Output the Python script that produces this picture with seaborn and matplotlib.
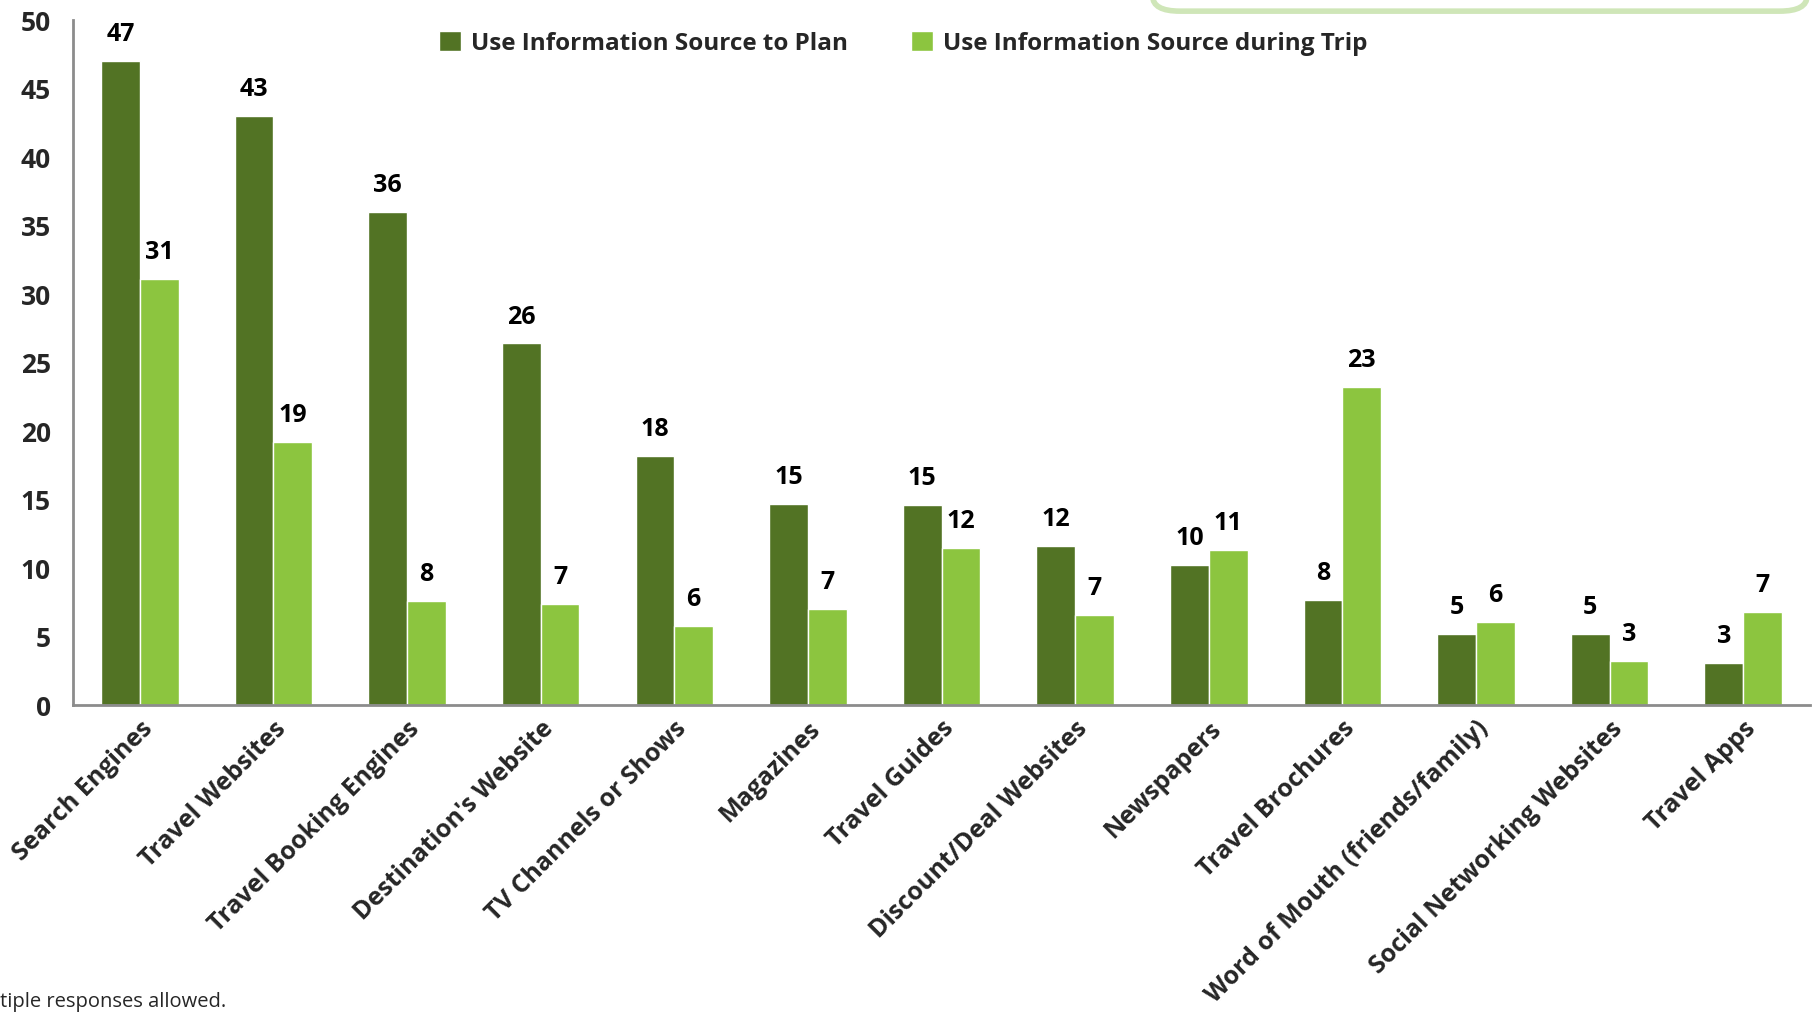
import numpy as np
import pandas as pd
import matplotlib
matplotlib.use("Agg")
import matplotlib.pyplot as plt
from matplotlib.patches import FancyBboxPatch
import seaborn as sns

# values
categories = [
    "Search Engines", "Travel Websites", "Travel Booking Engines",
    "Destination's Website", "TV Channels or Shows", "Magazines",
    "Travel Guides", "Discount/Deal Websites", "Newspapers",
    "Travel Brochures", "Word of Mouth (friends/family)",
    "Social Networking Websites", "Travel Apps",
]
plan_values = [47.0, 43.0, 36.0, 26.4, 18.2, 14.7, 14.6, 11.6, 10.2, 7.7, 5.2, 5.2, 3.1]
trip_values = [31.1, 19.2, 7.6, 7.4, 5.8, 7.0, 11.5, 6.6, 11.3, 23.2, 6.1, 3.2, 6.8]
series_names = ["Use Information Source to Plan", "Use Information Source during Trip"]
series_colors = ["#527324", "#8CC53F"]
y_ticks = [0, 5, 10, 15, 20, 25, 30, 35, 40, 45, 50]
footnote = "tiple responses allowed."

df = pd.DataFrame({
    "category": categories * 2,
    "value": plan_values + trip_values,
    "series": [series_names[0]] * len(categories) + [series_names[1]] * len(categories),
})

sns.set_style("white")
plt.rcParams['font.family'] = ['Open Sans', 'DejaVu Sans']

fig = plt.figure(figsize=(18.18, 10.13), dpi=100)
ax = fig.add_axes([0.0402, 0.304, 0.9554, 0.676])

sns.barplot(
    data=df, x="category", y="value", hue="series",
    hue_order=series_names, palette=series_colors,
    width=0.58, saturation=1, ax=ax, legend=True,
)

for container in ax.containers:
    labels = [f"{int(b.get_height() + 0.5)}" for b in container]
    ax.bar_label(container, labels=labels, padding=10,
                 fontsize=18, fontweight='bold', color='black')

ax.set_ylim(0, 50)
ax.set_xlim(-0.5, len(categories) - 0.5)
ax.set_yticks(y_ticks)
ax.set_xlabel("")
ax.set_ylabel("")

for side in ["top", "right"]:
    ax.spines[side].set_visible(False)
for side in ["left", "bottom"]:
    ax.spines[side].set_color("#8c8c8c")
    ax.spines[side].set_linewidth(2)

ax.set_xticks(np.arange(-0.5, len(categories), 1), minor=True)
ax.tick_params(axis='x', which='major', length=0, pad=8)
ax.tick_params(axis='x', which='minor', length=9, width=1.5, color="#8c8c8c")
ax.tick_params(axis='y', length=8, width=1.5, color="#8c8c8c", pad=8)
ax.set_xticklabels(categories, rotation=45, ha='right', rotation_mode='anchor',
                   fontsize=18, fontweight='bold')
for lab in ax.get_yticklabels():
    lab.set_fontsize(19)
    lab.set_fontweight('bold')

ax.legend(loc='center', bbox_to_anchor=(0.478, 0.966), ncol=2, frameon=False,
          prop={'size': 17.5, 'weight': 'bold'}, handlelength=0.9, handleheight=0.9,
          handletextpad=0.4, columnspacing=2.6)

# partially visible note box at the top right
box = FancyBboxPatch((0.634, 0.989), 0.36, 0.1, transform=fig.transFigure,
                     boxstyle="round,pad=0,rounding_size=0.015",
                     facecolor="white", edgecolor="#cfe6b8", linewidth=4,
                     clip_on=False)
fig.patches.append(box)

fig.text(0.0, 1 - 1002 / 1013, footnote, fontsize=14.5, va='center', ha='left',
         family=['Open Sans', 'DejaVu Sans'])

plt.savefig("out.png", dpi=100)
plt.close()
